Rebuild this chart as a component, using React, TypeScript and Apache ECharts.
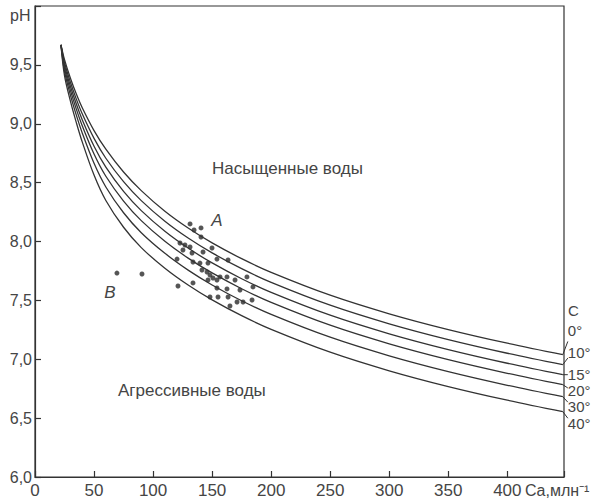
import React, { useEffect, useRef } from "react";
import * as echarts from "echarts";

// Ca, mg/l (млн⁻¹) sample positions along the saturation curves
const caGrid = [22, 25, 30, 35, 40, 50, 60, 75, 90, 110, 130, 150, 175, 200, 250, 300, 350, 400, 447];
const ph0 = [9.67, 9.544, 9.386, 9.252, 9.136, 8.942, 8.784, 8.59, 8.432, 8.257, 8.112, 7.988, 7.854, 7.738, 7.544, 7.386, 7.252, 7.136, 7.039];
const ph10 = [9.67, 9.52, 9.352, 9.209, 9.085, 8.876, 8.707, 8.508, 8.347, 8.172, 8.027, 7.903, 7.769, 7.653, 7.459, 7.301, 7.167, 7.051, 6.954];
const ph15 = [9.67, 9.496, 9.318, 9.167, 9.034, 8.809, 8.631, 8.425, 8.262, 8.087, 7.942, 7.818, 7.684, 7.568, 7.374, 7.216, 7.082, 6.966, 6.869];
const ph20 = [9.67, 9.473, 9.284, 9.124, 8.983, 8.743, 8.554, 8.343, 8.177, 8.002, 7.857, 7.733, 7.599, 7.483, 7.289, 7.131, 6.997, 6.881, 6.784];
const ph30 = [9.67, 9.444, 9.243, 9.073, 8.922, 8.664, 8.463, 8.244, 8.075, 7.9, 7.755, 7.631, 7.497, 7.381, 7.187, 7.029, 6.895, 6.779, 6.682];
const ph40 = [9.67, 9.408, 9.192, 9.01, 8.846, 8.564, 8.348, 8.121, 7.948, 7.773, 7.628, 7.504, 7.37, 7.254, 7.06, 6.902, 6.768, 6.652, 6.555];

const tempLabels = ["0°", "10°", "15°", "20°", "30°", "40°"];
const labelShift = [-24, -12, 0, 6, 10, 12];

// measured water samples
const sampleCa = [131.3, 134.7, 140.6, 140.6, 122.8, 127.0, 131.3, 125.3, 133.0, 142.3, 149.9, 120.3, 133.8, 139.7, 146.5, 154.1, 163.5, 141.4, 145.7, 148.2, 150.7, 146.5, 154.1, 156.7, 162.6, 169.4, 179.5, 121.1, 133.8, 154.1, 162.6, 173.6, 184.6, 148.2, 155.0, 163.5, 171.1, 176.2, 183.8, 165.1, 90.6, 69.4];
const samplePh = [8.149, 8.098, 8.115, 8.038, 7.987, 7.97, 7.953, 7.928, 7.902, 7.911, 7.945, 7.851, 7.826, 7.817, 7.817, 7.851, 7.843, 7.758, 7.741, 7.715, 7.69, 7.673, 7.673, 7.699, 7.699, 7.673, 7.699, 7.622, 7.648, 7.605, 7.597, 7.588, 7.614, 7.529, 7.529, 7.529, 7.486, 7.486, 7.503, 7.452, 7.724, 7.732];

const FONT = "'Liberation Sans', Arial, sans-serif";
const INK = "#333";
const TXT = "#454545";

export default function App() {
  const ref = useRef<HTMLDivElement>(null);
  useEffect(() => {
    document.body.style.margin = "0";
    const chart = echarts.init(ref.current!, null, { renderer: "svg" });
    const curves = [ph0, ph10, ph15, ph20, ph30, ph40];
    const lineSeries = curves.map((arr, i) => ({
      type: "line",
      name: tempLabels[i],
      data: caGrid.map((c, j) => [c, arr[j]]),
      showSymbol: false,
      symbol: "none",
      smooth: 0.35,
      lineStyle: { color: INK, width: 1.3 },
      silent: true,
      endLabel: {
        show: true,
        formatter: tempLabels[i],
        offset: [0, labelShift[i]],
        distance: 5,
        color: TXT,
        fontSize: 15,
        lineHeight: 15,
        fontFamily: FONT,
      },
    }));
    const option: any = {
      animation: false,
      backgroundColor: "#fff",
      grid: { left: 35, top: 6, right: 30, bottom: 27, show: true, borderColor: INK, borderWidth: 1.2 },
      xAxis: {
        type: "value",
        min: 0,
        max: 448,
        interval: 50,
        axisLine: { show: true, lineStyle: { color: INK, width: 1.2 } },
        axisTick: { show: true, inside: true, length: 6, lineStyle: { color: INK, width: 1.2 } },
        axisLabel: {
          formatter: (v: number) => (v % 50 === 0 && v <= 400 ? String(v) : ""),
          color: TXT,
          fontSize: 17,
          fontFamily: FONT,
          margin: 5,
        },
        splitLine: { show: false },
      },
      yAxis: {
        type: "value",
        min: 6,
        max: 10,
        interval: 0.5,
        axisLine: { show: true, lineStyle: { color: INK, width: 1.2 } },
        axisTick: { show: true, inside: true, length: 6, lineStyle: { color: INK, width: 1.2 } },
        axisLabel: {
          formatter: (v: number) => (v >= 10 ? "" : v.toFixed(1).replace(".", ",")),
          color: TXT,
          fontSize: 16,
          fontFamily: FONT,
          margin: 3,
        },
        splitLine: { show: false },
      },
      series: [
        ...lineSeries,
        {
          type: "scatter",
          data: sampleCa.map((c, i) => [c, samplePh[i]]),
          symbolSize: 5,
          itemStyle: { color: "#2a2a2a" },
          silent: true,
        },
      ],
    };
    chart.setOption(option);

    const texts = [
      { text: "pH", x: 10, y: 15, size: 16, italic: false, align: "left" },
      { text: "C", x: 568, y: 310, size: 15, italic: false, align: "left" },
      { text: "Ca,млн⁻¹", x: 525, y: 490, size: 16, italic: false, align: "left" },
      { text: "Насыщенные воды", x: 212, y: 168, size: 17, italic: false, align: "left" },
      { text: "Агрессивные воды", x: 118, y: 390, size: 17, italic: false, align: "left" },
      { text: "A", x: 217, y: 220, size: 17, italic: true, align: "center" },
      { text: "B", x: 110, y: 292, size: 17, italic: true, align: "center" },
    ];
    const graphics: any[] = texts.map((t) => ({
      type: "text",
      x: t.x,
      y: t.y,
      silent: true,
      style: {
        text: t.text,
        fill: TXT,
        font: `${t.italic ? "italic " : ""}${t.size}px ${FONT}`,
        textAlign: t.align,
        align: t.align,
        textVerticalAlign: "middle",
        verticalAlign: "middle",
      },
    }));
    const last = caGrid.length - 1;
    curves.forEach((arr, i) => {
      const p = chart.convertToPixel({ gridIndex: 0 }, [caGrid[last], arr[last]]) as number[];
      graphics.push({
        type: "line",
        silent: true,
        shape: { x1: p[0], y1: p[1], x2: p[0] + 5, y2: p[1] + labelShift[i] * 0.55 },
        style: { stroke: INK, lineWidth: 1 },
      });
    });
    chart.setOption({ graphic: graphics });
    return () => chart.dispose();
  }, []);
  return <div ref={ref} style={{ width: 594, height: 504 }} />;
}
